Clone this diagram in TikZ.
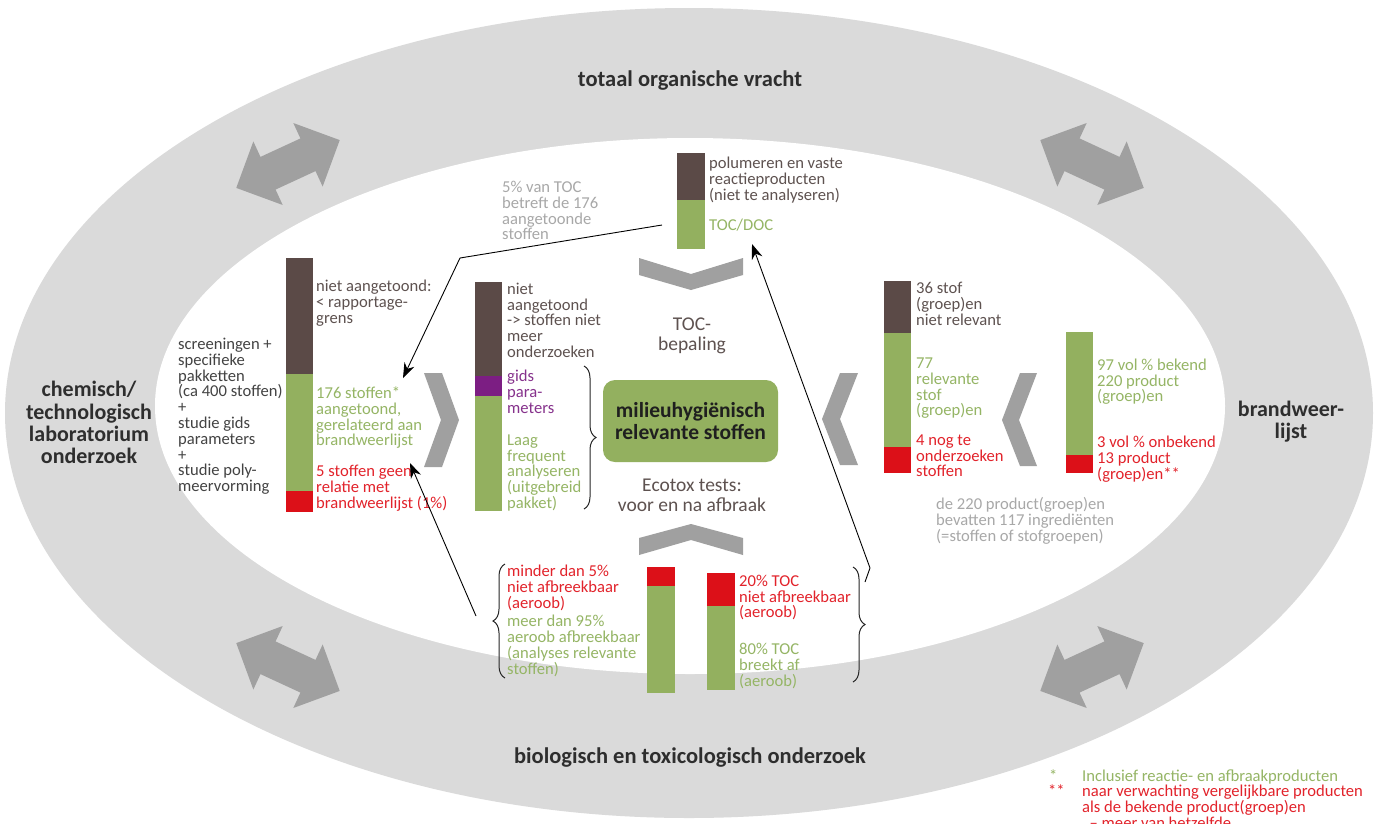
\documentclass[tikz,border=0pt]{standalone}
\usepackage{fontspec}
\setmainfont{Carlito}
\usetikzlibrary{arrows.meta,decorations.pathreplacing}
\definecolor{band}{HTML}{DADADA}
\definecolor{chev}{HTML}{A0A0A0}
\definecolor{brn}{HTML}{5B4A47}
\definecolor{grn}{HTML}{93B05F}
\definecolor{rd}{HTML}{DC1018}
\definecolor{prp}{HTML}{7C1E83}
\definecolor{tbrn}{HTML}{5E5250}
\definecolor{tgrn}{HTML}{95B565}
\definecolor{trd}{HTML}{E2232B}
\definecolor{tprp}{HTML}{86328C}
\definecolor{tgry}{HTML}{A8A8A8}
\definecolor{tdark}{HTML}{2E2E2E}
\newcommand\bodyfont{\fontsize{16.6}{15.8}\selectfont\lineskiplimit=-30pt\relax}
\newcommand\bigfont{\fontsize{19.5}{20}\selectfont\lineskiplimit=-30pt\relax}
\newcommand\lblfont{\fontsize{22}{22.2}\selectfont\bfseries\lineskiplimit=-30pt\relax}
\newcommand\toplblfont{\fontsize{22.5}{22.5}\selectfont\bfseries\lineskiplimit=-30pt\relax}
\newcommand\boxfont{\fontsize{21.5}{21.6}\selectfont\bfseries\lineskiplimit=-30pt\relax}
\newcommand\mystrut{\rule{0pt}{14pt}}
\newcommand\bstrut{\rule{0pt}{16pt}}
\newcommand\dblarrow[3]{\fill[chev, shift={(#1,#2)}, rotate=#3] (57,0) -- (22,-35) -- (22,-18) -- (-22,-18) -- (-22,-35) -- (-57,0) -- (-22,35) -- (-22,18) -- (22,18) -- (22,35) -- cycle;}
\begin{document}
\begin{tikzpicture}[x=1pt,y=-1pt,
  txt/.style={anchor=north west, inner sep=0pt, align=left, font=\bodyfont},
  lbl/.style={inner sep=0pt, align=center, font=\lblfont, text=tdark},
  mid/.style={inner sep=0pt, align=center, font=\bigfont, text=tbrn, anchor=north},
  conn/.style={draw=black, line width=0.9pt, -{Stealth[length=15pt,width=11pt]}},
  brc/.style={draw=black!85, line width=1pt, decorate, decoration={brace, amplitude=12pt}},
  chevron/.style={fill=chev}]
\useasboundingbox (0,0) rectangle (1377,823);
\clip (0,0) rectangle (1377,823);
\fill[white] (0,0) rectangle (1377,823);
% rings
\fill[band] (689,413) ellipse [x radius=684pt, y radius=405pt];
\fill[white] (690,406) ellipse [x radius=535pt, y radius=268pt];
% double arrows in the band
\dblarrow{288}{164}{24.8}
\dblarrow{1092}{164}{-24.8}
\dblarrow{288}{667}{-24.8}
\dblarrow{1092}{667}{24.8}
% band labels
\node[lbl, font=\toplblfont, anchor=base] (tov) at (690,86) {totaal organische vracht};
\node[lbl, font=\toplblfont, anchor=base] (bto) at (690,763) {biologisch en toxicologisch onderzoek};
\node[lbl, anchor=north] (ctl) at (89,380.7) {\bstrut chemisch/\\technologisch\\laboratorium\\onderzoek};
\node[lbl, anchor=north] (bwl) at (1291,400) {\bstrut brandweer-\\lijst};
% chevrons
\fill[chevron] (639,258) -- (691,274) -- (743,258) -- (743,275) -- (691,290) -- (639,275) -- cycle;
\fill[chevron] (639,538) -- (691,524) -- (743,538) -- (743,555) -- (691,540) -- (639,555) -- cycle;
\fill[chevron] (424,373) -- (442,373) -- (459,420) -- (442,467) -- (424,467) -- (441,420) -- cycle;
\fill[chevron] (858,373) -- (840,373) -- (822,419) -- (840,465) -- (858,465) -- (840,419) -- cycle;
\fill[chevron] (1037,373) -- (1020,373) -- (1002,420) -- (1020,466) -- (1037,466) -- (1019,420) -- cycle;
% bars
\fill[brn] (677,153) rectangle (705,200);
\fill[grn] (677,200) rectangle (705,249);
\fill[brn] (286,258) rectangle (313,374);
\fill[grn] (286,374) rectangle (313,491);
\fill[rd]  (286,491) rectangle (313,512);
\fill[brn] (475,282) rectangle (502,376);
\fill[prp] (475,376) rectangle (502,396);
\fill[grn] (475,396) rectangle (502,511);
\fill[brn] (884,281) rectangle (911,333);
\fill[grn] (884,333) rectangle (911,447);
\fill[rd]  (884,447) rectangle (911,473);
\fill[grn] (1066,332) rectangle (1093,455);
\fill[rd]  (1066,455) rectangle (1093,473);
\fill[rd]  (647,567) rectangle (675,586);
\fill[grn] (647,586) rectangle (675,693);
\fill[rd]  (707,573) rectangle (735,606);
\fill[grn] (707,606) rectangle (735,690);
% top
\node[txt, text=tbrn] (polu) at (709,154.3) {\mystrut polumeren en vaste\\reactieproducten\\(niet te analyseren)};
\node[txt, text=tgrn, anchor=base west] (tocdoc) at (709,230.7) {TOC/DOC};
\node[txt, text=tgry] (pct5) at (502,178.3) {\mystrut 5\% van TOC\\betreft de 176\\aangetoonde\\stoffen};
% left
\node[txt, text=tdark!90] (scr) at (178,335.3) {\mystrut screeningen +\\specifieke\\pakketten\\(ca 400 stoffen)\\+\\studie gids\\parameters\\+\\studie poly-\\meervorming};
\node[txt, text=tbrn] (nieta) at (316,277.7) {\mystrut niet aangetoond:\\< rapportage-\\grens};
\node[txt, text=tgrn] (s176) at (316,384.3) {\mystrut 176 stoffen*\\aangetoond,\\gerelateerd aan\\brandweerlijst};
\node[txt, text=trd] (s5) at (316,462.7) {\mystrut 5 stoffen geen\\relatie met\\brandweerlijst (1\%)};
% middle column
\node[txt, text=tbrn] (nietb) at (507,280) {\mystrut niet\\aangetoond\\-> stoffen niet\\meer\\onderzoeken};
\node[txt, text=tprp] (gids) at (507,367.7) {\mystrut gids\\para-\\meters};
\node[txt, text=tgrn] (laag) at (507,431) {\mystrut Laag\\frequent\\analyseren\\(uitgebreid\\pakket)};
% centre
\node[mid] (toc) at (692,315) {\rule{0pt}{15pt}TOC-\\bepaling};
\node[mid] (eco) at (692,476.7) {\rule{0pt}{15pt}Ecotox tests:\\voor en na afbraak};
\node[fill=grn, rounded corners=12pt, minimum width=175pt, minimum height=82pt, inner sep=0pt, align=center, font=\boxfont, text=black!88] (mrs) at (690.5,421) {milieuhygiënisch\\relevante stoffen};
% right
\node[txt, text=tbrn] (s36) at (916,279.3) {\mystrut 36 stof\\(groep)en\\niet relevant};
\node[txt, text=tgrn] (s77) at (916,354.3) {\mystrut 77\\relevante\\stof\\(groep)en};
\node[txt, text=trd] (s4) at (916,431) {\mystrut 4 nog te\\onderzoeken\\stoffen};
\node[txt, text=tgrn] (v97) at (1097,356) {\mystrut 97 vol \% bekend\\220 product\\(groep)en};
\node[txt, text=trd] (v3) at (1097,433.3) {\mystrut 3 vol \% onbekend\\13 product\\(groep)en**};
\node[txt, text=tgry] (d220) at (936,495.3) {\mystrut de 220 product(groep)en\\bevatten 117 ingrediënten\\(=stoffen of stofgroepen)};
% bottom
\node[txt, text=trd] (m5) at (507,562.7) {\mystrut minder dan 5\%\\niet afbreekbaar\\(aeroob)};
\node[txt, text=tgrn] (m95) at (507,612.7) {\mystrut meer dan 95\%\\aeroob afbreekbaar\\(analyses relevante\\stoffen)};
\node[txt, text=trd] (t20) at (739,572) {\mystrut 20\% TOC\\niet afbreekbaar\\(aeroob)};
\node[txt, text=tgrn] (t80) at (739,640.3) {\mystrut 80\% TOC\\breekt af\\(aeroob)};
% braces
\draw[brc] (584,366) coordinate (b1a) -- (584,509) coordinate (b1b);
\draw[brc] (505,678) coordinate (b2a) -- (505,564) coordinate (b2b);
\draw[brc] (853,567) coordinate (b3a) -- (853,682) coordinate (b3b);
% connectors
\coordinate (aS) at (662,225);
\coordinate (aK) at (460,258);
\coordinate (aE) at (403,378);
\draw[conn] (aS) -- (aK) -- (aE);
\coordinate (bS) at (476,616);
\coordinate (bE) at (410,463);
\draw[conn] (bS) -- (bE);
\coordinate (cS) at (865,582);
\coordinate (cK) at (870,568);
\coordinate (cE) at (752,244);
\draw[conn] (cS) -- (cK) -- (cE);
% footnotes
\node[txt, text=tgrn, anchor=base west] (fn1m) at (1049,781.7) {*};
\node[txt, text=trd, anchor=base west] (fn2m) at (1048,796.7) {**};
\node[txt, text=tgrn, anchor=base west] (fn1) at (1082,781.7) {Inclusief reactie- en afbraakproducten};
\node[txt, text=trd] (fn2) at (1082,782.7) {\mystrut naar verwachting vergelijkbare producten\\als de bekende product(groep)en\\\ \ – meer van hetzelfde};
\end{tikzpicture}
\end{document}
